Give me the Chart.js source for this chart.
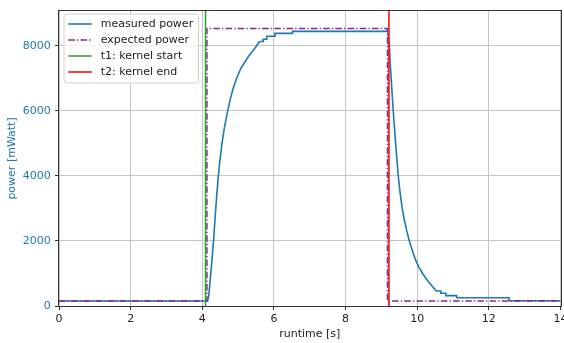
<!DOCTYPE html>
<html>
<head>
<meta charset="utf-8">
<script src="https://cdn.jsdelivr.net/npm/chart.js@4.4.0/dist/chart.umd.min.js"></script>
<style>
    html, body { margin: 0; padding: 0; background: #fff; overflow: hidden; }
    #power-chart { display: block; }
</style>
</head>
<body>
<canvas id="power-chart" width="564" height="343"></canvas>
<script>
"use strict";

// measured power trace (runtime [s] -> power [mWatt])
const measuredTime = [
    0, 4.15, 4.18, 4.21, 4.24, 4.28, 4.32, 4.36, 4.40, 4.44, 4.49, 4.55, 4.62, 4.70,
    4.78, 4.87, 4.96, 5.02, 5.07, 5.13, 5.19, 5.27, 5.35, 5.43, 5.52, 5.56, 5.62,
    5.70, 5.70, 5.80, 5.80, 6.03, 6.03, 6.52, 6.52,
    9.18, 9.20, 9.22, 9.25, 9.29, 9.33, 9.38, 9.43, 9.47, 9.52, 9.58, 9.64, 9.71,
    9.78, 9.87, 9.96, 10.05, 10.15, 10.25, 10.35, 10.45, 10.54, 10.66, 10.66, 10.80,
    10.80, 11.10, 11.10, 12.56, 12.56, 14
];
const measuredPower = [
    155, 155, 330, 650, 1050, 1550, 2100, 2750, 3350, 3900, 4450, 5000, 5500, 5950,
    6350, 6720, 7000, 7160, 7290, 7400, 7500, 7640, 7760, 7870, 8000, 8080, 8130,
    8130, 8200, 8200, 8290, 8290, 8380, 8380, 8440,
    8440, 8250, 8050, 7400, 6700, 6000, 5250, 4550, 4000, 3500, 3000, 2650, 2300,
    2000, 1680, 1400, 1190, 1000, 840, 700, 570, 460, 460, 390, 390,
    320, 320, 255, 255, 160, 160
];

// expected power (step)
const expectedTime = [0, 4.13, 4.13, 9.17, 9.17, 14];
const expectedPower = [150, 150, 8530, 8530, 150, 150];

// kernel start / end
const kernelStart = 4.09;
const kernelEnd = 9.21;

// axes
const runtimeRange = [0, 14];
const powerRange = [0, 9070];
const xTicks = [0, 2, 4, 6, 8, 10, 12, 14];
const yTicks = [0, 2000, 4000, 6000, 8000];

const FONT = "'DejaVu Sans', 'Liberation Sans', sans-serif";

function zip(xs, ys) {
    return xs.map((x, i) => ({x: x, y: ys[i]}));
}

/**
 * Draws the four spines around the plot area
 */
const axesFrame = {
    id: 'axesFrame',
    afterDatasetsDraw(chart) {
        const {ctx, chartArea: {left, top, right, bottom}} = chart;
        ctx.save();
        ctx.strokeStyle = '#333333';
        ctx.lineWidth = 1;
        ctx.strokeRect(Math.round(left) - 0.5, Math.round(top) - 0.5,
            Math.round(right) - Math.round(left) + 1, Math.round(bottom) - Math.round(top) + 1);
        ctx.restore();
    }
};

/**
 * Legend box drawn inside the plot, upper left
 */
const insideLegend = {
    id: 'insideLegend',
    afterDraw(chart, args, opts) {
        const {ctx} = chart;
        ctx.save();
        ctx.beginPath();
        if (ctx.roundRect) {
            ctx.roundRect(opts.x, opts.y, opts.width, opts.height, 3);
        } else {
            ctx.rect(opts.x, opts.y, opts.width, opts.height);
        }
        ctx.fillStyle = 'rgba(255, 255, 255, 0.8)';
        ctx.fill();
        ctx.strokeStyle = '#d0d0d0';
        ctx.lineWidth = 1;
        ctx.stroke();

        ctx.font = opts.font;
        ctx.textBaseline = 'middle';
        ctx.textAlign = 'left';
        chart.data.datasets.forEach((dataset, i) => {
            const cy = opts.y + opts.firstRow + i * opts.rowHeight;
            ctx.beginPath();
            ctx.setLineDash(dataset.borderDash || []);
            ctx.strokeStyle = dataset.borderColor;
            ctx.lineWidth = dataset.borderWidth;
            ctx.moveTo(opts.x + opts.sampleX, cy);
            ctx.lineTo(opts.x + opts.sampleX + opts.sampleWidth, cy);
            ctx.stroke();
            ctx.setLineDash([]);
            ctx.fillStyle = '#222222';
            ctx.fillText(dataset.label, opts.x + opts.textX, cy + 0.5);
        });
        ctx.restore();
    }
};

const powerChart = (function () {
    const ctx = document.getElementById('power-chart');
    let chart;

    function init() {
        const dataChart = {
            datasets: [{
                label: 'measured power',
                data: zip(measuredTime, measuredPower),
                borderColor: '#1f77b4',
                borderWidth: 1.6,
                order: 4
            }, {
                label: 'expected power',
                data: zip(expectedTime, expectedPower),
                borderColor: '#84278f',
                borderWidth: 1.5,
                borderDash: [6.5, 2.2, 1.3, 2.2],
                order: 3
            }, {
                label: 't1: kernel start',
                data: [{x: kernelStart, y: powerRange[0]}, {x: kernelStart, y: powerRange[1]}],
                borderColor: '#2ca02c',
                borderWidth: 1.5,
                order: 2
            }, {
                label: 't2: kernel end',
                data: [{x: kernelEnd, y: powerRange[0]}, {x: kernelEnd, y: powerRange[1]}],
                borderColor: '#f01e1e',
                borderWidth: 1.7,
                order: 1
            }]
        };

        const config = {
            type: 'line',
            data: dataChart,
            options: {
                responsive: false,
                animation: false,
                devicePixelRatio: 1,
                layout: {
                    padding: {left: 0, top: 8, right: 0, bottom: 0}
                },
                elements: {
                    point: {radius: 0, hoverRadius: 0},
                    line: {tension: 0, fill: false}
                },
                plugins: {
                    legend: {display: false},
                    tooltip: {enabled: false},
                    insideLegend: {
                        x: 64, y: 14, width: 134.5, height: 69,
                        firstRow: 10, rowHeight: 16,
                        sampleX: 4.3, sampleWidth: 23.4, textX: 36.7,
                        font: '11px ' + FONT
                    }
                },
                scales: {
                    x: {
                        type: 'linear',
                        min: runtimeRange[0],
                        max: runtimeRange[1],
                        afterBuildTicks: (scale) => {
                            scale.ticks = xTicks.map(v => ({value: v}));
                        },
                        afterFit: (scale) => {
                            scale.height = 37;
                            scale.paddingRight = 3.5;
                        },
                        border: {display: false},
                        grid: {
                            color: '#c4c4c4',
                            lineWidth: 1,
                            tickColor: '#333333',
                            tickLength: 4,
                            tickWidth: 1
                        },
                        ticks: {
                            color: '#222222',
                            padding: 2.5,
                            maxRotation: 0,
                            font: {family: FONT, size: 11},
                            callback: (value) => value
                        },
                        title: {
                            display: true,
                            text: 'runtime [s]',
                            color: '#222222',
                            font: {family: FONT, size: 11},
                            padding: {top: 0, bottom: 2.4}
                        }
                    },
                    y: {
                        type: 'linear',
                        min: powerRange[0],
                        max: powerRange[1],
                        afterBuildTicks: (scale) => {
                            scale.ticks = yTicks.map(v => ({value: v}));
                        },
                        afterFit: (scale) => {
                            scale.width = 59;
                        },
                        border: {display: false},
                        grid: {
                            color: '#c4c4c4',
                            lineWidth: 1,
                            tickColor: '#333333',
                            tickLength: 4,
                            tickWidth: 1
                        },
                        ticks: {
                            color: '#1f77b4',
                            padding: 4.3,
                            font: {family: FONT, size: 11},
                            callback: (value) => value
                        },
                        title: {
                            display: true,
                            text: 'power [mWatt]',
                            color: '#1f77b4',
                            font: {family: FONT, size: 11},
                            padding: {top: 5.9, bottom: 0}
                        }
                    }
                }
            },
            plugins: [axesFrame, insideLegend]
        };

        chart = new Chart(ctx, config);
    }

    return {
        init
    };
})();

powerChart.init();
</script>
</body>
</html>
